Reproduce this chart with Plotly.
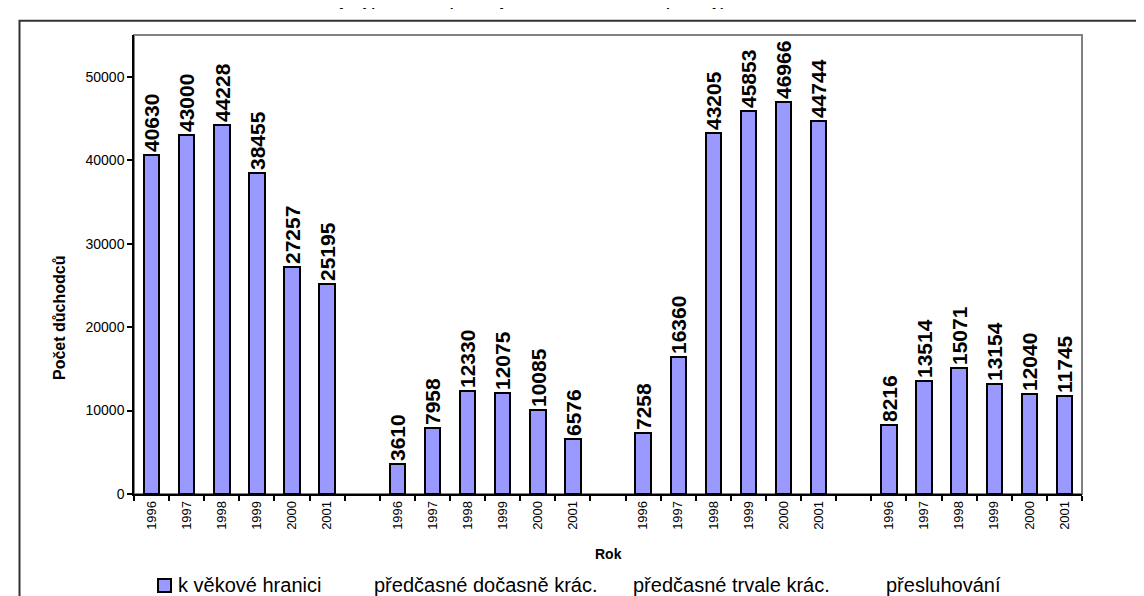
import plotly.graph_objects as go

years = ["1996", "1997", "1998", "1999", "2000", "2001"]
series_names = ["k věkové hranici", "předčasné dočasně krác.", "předčasné trvale krác.", "přesluhování"]
vekove = [40630, 43000, 44228, 38455, 27257, 25195]
docasne = [3610, 7958, 12330, 12075, 10085, 6576]
trvale = [7258, 16360, 43205, 45853, 46966, 44744]
presluhovani = [8216, 13514, 15071, 13154, 12040, 11745]
all_series = [vekove, docasne, trvale, presluhovani]

title_text = "Vývoj počtu nově přiznaných starobních důchodů podle typu"
y_title = "Počet důchodců"
x_title = "Rok"

FONT = "Liberation Sans, Arial, sans-serif"
BAR = "#9999FF"

W, H = 1144, 596
L, R, T, B = 126, 70, 27, 110
pw = W - L - R
ph = H - T - B

def px(x):
    return (x - L) / pw

def py(y):
    return (H - B - y) / ph

group_len = len(years) + 1
n_slots = group_len * len(all_series) - 1

fig = go.Figure()
tickvals, ticktext = [], []
for g, vals in enumerate(all_series):
    xs = [g * group_len + i for i in range(len(years))]
    tickvals += xs
    ticktext += years
    fig.add_trace(go.Bar(
        x=xs, y=vals, width=0.44, name=series_names[g],
        marker=dict(color=BAR, line=dict(color="black", width=2)),
        text=[f"<b>{v}</b>" for v in vals],
        textposition="outside", textangle=-90, constraintext="none",
        cliponaxis=False,
        textfont=dict(family=FONT, size=21, color="black"),
        showlegend=False, hoverinfo="skip",
    ))

shapes = [
    # outer chart border
    dict(type="rect", xref="paper", yref="paper", x0=px(11.5), x1=px(1300), y0=py(700), y1=py(12.7),
         line=dict(color="#333333", width=2), layer="below"),
    # plot frame
    dict(type="rect", xref="paper", yref="paper", x0=0, x1=1, y0=0, y1=1,
         line=dict(color="#808080", width=2), layer="below"),
    # legend square
    dict(type="rect", xref="paper", yref="paper", x0=px(150), x1=px(163), y0=py(584), y1=py(571),
         fillcolor=BAR, line=dict(color="black", width=2)),
]

legend_x = [168, 364, 623, 876]
annotations = [
    dict(text=f"<b>{title_text}</b>", xref="paper", yref="paper", x=px(525), y=py(3),
         xanchor="center", yanchor="bottom", showarrow=False,
         font=dict(family=FONT, size=14, color="black")),
]
for name, lx in zip(series_names, legend_x):
    annotations.append(dict(text=name, xref="paper", yref="paper", x=px(lx), y=py(577),
                            xanchor="left", yanchor="middle", showarrow=False,
                            font=dict(family=FONT, size=20, color="black")))
annotations.append(dict(text=f"<b>{x_title}</b>", xref="paper", yref="paper", x=px(600), y=py(546),
                        xanchor="center", yanchor="middle", showarrow=False,
                        font=dict(family=FONT, size=14, color="black")))
annotations.append(dict(text=f"<b>{y_title}</b>", xref="paper", yref="paper", x=px(51), y=py(310),
                        xanchor="center", yanchor="middle", showarrow=False, textangle=-90,
                        font=dict(family=FONT, size=16, color="black")))

fig.update_layout(
    width=W, height=H,
    margin=dict(l=L, r=R, t=T, b=B),
    paper_bgcolor="white", plot_bgcolor="white",
    font=dict(family=FONT, color="black"),
    bargap=0,
    shapes=shapes,
    annotations=annotations,
    xaxis=dict(
        range=[-0.5, n_slots - 0.5], tickvals=tickvals, ticktext=ticktext,
        tickangle=-90, ticks="", showgrid=False, zeroline=False,
        showline=True, linecolor="black", linewidth=1.5,
        tickfont=dict(family=FONT, size=13, color="black"),
        minor=dict(ticks="outside", ticklen=5, tickcolor="black", tickwidth=1.5,
                   tick0=0.5, dtick=1, showgrid=False),
    ),
    yaxis=dict(
        range=[0, 55000], dtick=10000, tick0=0, tickformat="d",
        showgrid=False, zeroline=False,
        showline=True, linecolor="black", linewidth=1.5,
        ticks="outside", ticklen=5, tickcolor="black", tickwidth=1.5,
        tickfont=dict(family=FONT, size=14, color="black"),
    ),
)

fig.write_html("out.html")
